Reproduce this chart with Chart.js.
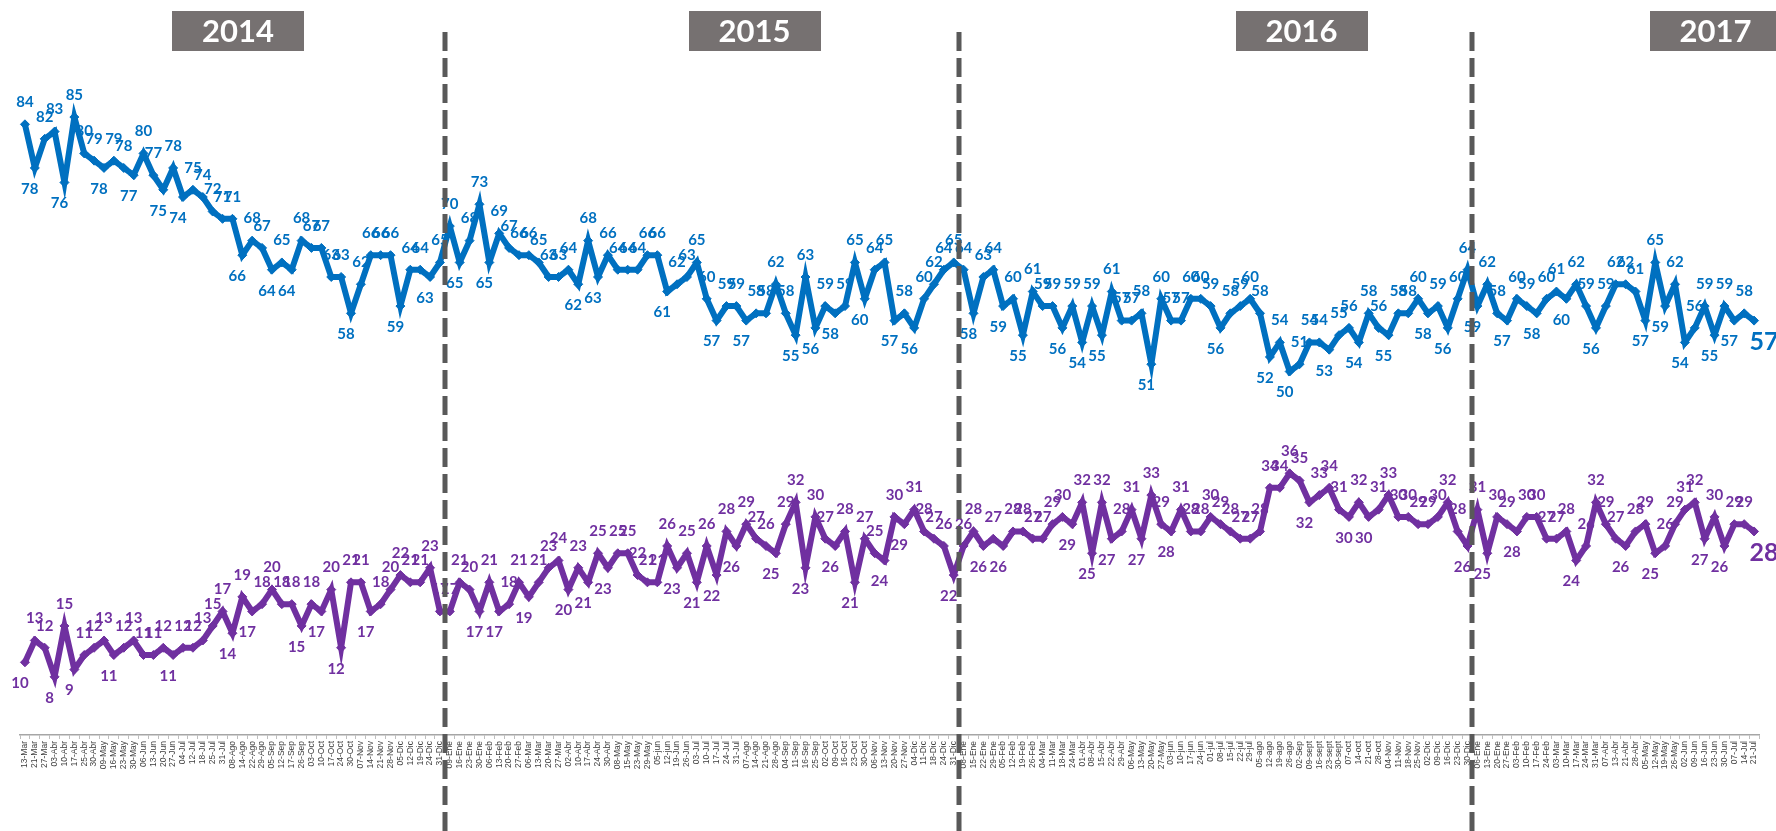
<!DOCTYPE html>
<html><head><meta charset="utf-8">
<script src="https://cdn.jsdelivr.net/npm/chart.js@4/dist/chart.umd.min.js"></script>
<style>html,body{margin:0;padding:0;background:#fff;overflow:hidden}#wrap{width:1776px;height:831px;position:relative}</style>
</head><body><div id="wrap"><canvas id="c"></canvas></div>
<script>
const weeks2014 = ['13-Mar','21-Mar','27-Mar','03-Abr','10-Abr','17-Abr','25-Abr','30-Abr','09-May','16-May','23-May','30-May','06-Jun','13-Jun','20-Jun','27-Jun','04-Jul','12-Jul','18-Jul','25-Jul','31-Jul','08-Ago','14-Ago','22-Ago','29-Ago','05-Sep','12-Sep','17-Sep','26-Sep','03-Oct','10-Oct','17-Oct','24-Oct','30-Oct','07-Nov','14-Nov','21-Nov','28-Nov','05-Dic','12-Dic','19-Dic','24-Dic','31-Dic'];
const weeks2015 = ['09-Ene','16-Ene','23-Ene','30-Ene','06-Feb','13-Feb','20-Feb','27-Feb','06-Mar','13-Mar','20-Mar','27-Mar','02-Abr','10-Abr','17-Abr','24-Abr','30-Abr','08-May','15-May','23-May','29-May','05-jun','12-jun','19-Jun','26-Jun','03-Jul','10-Jul','17-Jul','24-Jul','31-Jul','07-Ago','14-Ago','21-Ago','28-Ago','04-Sep','11-Sep','16-Sep','25-Sep','02-Oct','09-Oct','16-Oct','23-Oct','30-Oct','06-Nov','13-Nov','20-Nov','27-Nov','04-Dic','11-Dic','18-Dic','24-Dic','31-Dic'];
const weeks2016 = ['08-Ene','15-Ene','22-Ene','29-Ene','05-Feb','12-Feb','19-Feb','26-Feb','04-Mar','11-Mar','18-Mar','24-Mar','01-Abr','08-Abr','15-Abr','22-Abr','29-Abr','06-May','13-May','20-May','27-May','03-jun','10-jun','17-jun','24-jun','01-jul','08-jul','15-jul','22-jul','29-jul','05-ago','12-ago','19-ago','26-ago','02-Sep','09-sept','16-sept','23-sept','30-sept','07-oct','14-oct','21-oct','28-oct','04-Nov','11-Nov','18-Nov','25-Nov','02-Dic','09-Dic','16-Dic','23-Dic','30-Dic'];
const weeks2017 = ['06-Ene','13-Ene','20-Ene','27-Ene','03-Feb','10-Feb','17-Feb','24-Feb','03-Mar','10-Mar','17-Mar','24-Mar','31-Mar','07-Abr','13-Abr','21-Abr','28-Abr','05-May','12-May','19-May','26-May','02-Jun','09-Jun','16-Jun','23-Jun','30-Jun','07-Jul','14-Jul','21-Jul'];

const blue2014 = [84,78,82,83,76,85,80,79,78,79,78,77,80,77,75,78,74,75,74,72,71,71,66,68,67,64,65,64,68,67,67,63,63,58,62,66,66,66,59,64,64,63,65];
const blue2015 = [70,65,68,73,65,69,67,66,66,65,63,63,64,62,68,63,66,64,64,64,66,66,61,62,63,65,60,57,59,59,57,58,58,62,58,55,63,56,59,58,59,65,60,64,65,57,58,56,60,62,64,65];
const blue2016 = [64,58,63,64,59,60,55,61,59,59,56,59,54,59,55,61,57,57,58,51,60,57,57,60,60,59,56,58,59,60,58,52,54,50,51,54,54,53,55,56,54,58,56,55,58,58,60,58,59,56,60,64];
const blue2017 = [59,62,58,57,60,59,58,60,61,60,62,59,56,59,62,62,61,57,65,59,62,54,56,59,55,59,57,58,57];

const purple2014 = [10,13,12,8,15,9,11,12,13,11,12,13,11,11,12,11,12,12,13,15,17,14,19,17,18,20,18,18,15,18,17,20,12,21,21,17,18,20,22,21,21,23,17];
const purple2015 = [17,21,20,17,21,17,18,21,19,21,23,24,20,23,21,25,23,25,25,22,21,21,26,23,25,21,26,22,28,26,29,27,26,25,29,32,23,30,27,26,28,21,27,25,24,30,29,31,28,27,26,22];
const purple2016 = [26,28,26,27,26,28,28,27,27,29,30,29,32,25,32,27,28,31,27,33,29,28,31,28,28,30,29,28,27,27,28,34,34,36,35,32,33,34,31,30,32,30,31,33,30,30,29,29,30,32,28,26];
const purple2017 = [31,25,30,29,28,30,30,27,27,28,24,26,32,29,27,26,28,29,25,26,29,31,32,27,30,26,29,29,28];

const years = ['2014','2015','2016','2017'];
const yearLabelAt = [21.57, 73.84, 129.2, 171.1];
const yearBreakAt = [42.5, 94.5, 146.5];

const categories = [...weeks2014, ...weeks2015, ...weeks2016, ...weeks2017];
const blueSeries = [...blue2014, ...blue2015, ...blue2016, ...blue2017];
const purpleSeries = [...purple2014, ...purple2015, ...purple2016, ...purple2017];

const BLUE = '#0070C0', PURPLE = '#7030A0';
const LABEL_FONT = 'Lato, "Open Sans", sans-serif';

const pointLabels = {
  id: 'pointLabels',
  afterDatasetsDraw(chart) {
    const ctx = chart.ctx;
    chart.data.datasets.forEach((ds, di) => {
      const meta = chart.getDatasetMeta(di);
      const vals = ds.data;
      ctx.save();
      ctx.fillStyle = ds.borderColor;
      ctx.textAlign = 'center';
      ctx.textBaseline = 'middle';
      meta.data.forEach((pt, i) => {
        const v = vals[i];
        if (i === vals.length - 1) {
          ctx.font = 'bold 25px ' + LABEL_FONT;
          ctx.fillText(String(v), pt.x + 10, pt.y + 21);
          return;
        }
        ctx.font = 'bold 15px ' + LABEL_FONT;
        const prev = i > 0 ? vals[i - 1] : Infinity;
        const next = vals[i + 1];
        if (v < prev && v < next) ctx.fillText(String(v), pt.x - 5, pt.y + 21);
        else ctx.fillText(String(v), pt.x, pt.y - 22);
      });
      ctx.restore();
    });
  }
};

const yearDecor = {
  id: 'yearDecor',
  afterDraw(chart) {
    const ctx = chart.ctx, xs = chart.scales.x;
    ctx.save();
    ctx.strokeStyle = '#595959';
    ctx.lineWidth = 5;
    ctx.setLineDash([19, 7]);
    yearBreakAt.forEach(b => {
      const x = Math.round(xs.getPixelForValue(b));
      ctx.beginPath();
      ctx.moveTo(x, 32);
      ctx.lineTo(x, chart.height);
      ctx.stroke();
    });
    ctx.setLineDash([]);
    years.forEach((t, k) => {
      const cx = xs.getPixelForValue(yearLabelAt[k]);
      const w = 132, h = 40, top = 11;
      ctx.fillStyle = '#767171';
      ctx.fillRect(Math.round(cx - w / 2), top, w, h);
      ctx.fillStyle = '#ffffff';
      ctx.font = 'bold 31px ' + LABEL_FONT;
      ctx.textAlign = 'center';
      ctx.textBaseline = 'middle';
      ctx.fillText(t, cx, top + h / 2 + 1);
    });
    ctx.restore();
  }
};

new Chart(document.getElementById('c'), {
  type: 'line',
  data: {
    labels: categories,
    datasets: [
      { label: 'A', data: blueSeries, borderColor: BLUE, backgroundColor: BLUE, borderWidth: 6,
        pointStyle: 'rectRot', pointRadius: 4.5, pointBackgroundColor: BLUE, pointBorderColor: BLUE, pointBorderWidth: 1, tension: 0 },
      { label: 'B', data: purpleSeries, borderColor: PURPLE, backgroundColor: PURPLE, borderWidth: 6,
        pointStyle: 'rectRot', pointRadius: 4.5, pointBackgroundColor: PURPLE, pointBorderColor: PURPLE, pointBorderWidth: 1, tension: 0 }
    ]
  },
  options: {
    responsive: true,
    maintainAspectRatio: false,
    animation: false,
    layout: { padding: { left: 20, right: 17, top: 8, bottom: 0 } },
    plugins: { legend: { display: false }, title: { display: false }, tooltip: { enabled: false } },
    scales: {
      x: {
        type: 'category',
        offset: true,
        afterFit: (axis) => { axis.height = 96; },
        grid: { display: true, drawOnChartArea: false, drawTicks: true, tickLength: 4, color: '#BFBFBF', offset: true },
        border: { display: true, color: '#A6A6A6', width: 1.5 },
        ticks: { autoSkip: false, maxRotation: 90, minRotation: 90, padding: 2,
          font: { family: '"Liberation Sans", Arial, sans-serif', size: 8.5 }, color: '#404040' }
      },
      y: { display: false, min: 0, max: 100 }
    }
  },
  plugins: [pointLabels, yearDecor]
});
</script>
</body></html>
